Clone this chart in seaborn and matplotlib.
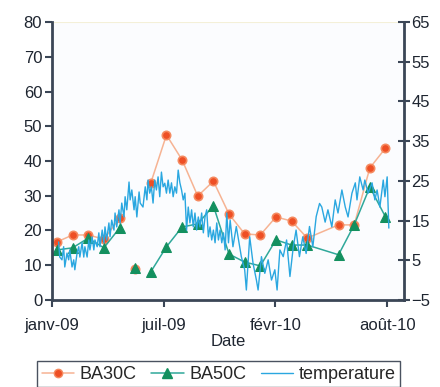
import pandas as pd
import matplotlib.pyplot as plt
from matplotlib.lines import Line2D
import seaborn as sns

sns.set_theme(style="white")
plt.rcParams["font.family"] = ["Liberation Sans", "DejaVu Sans"]

# ── data ─────────────────────────────────────────────────────────────────────
start = pd.Timestamp("2009-01-03")
sample_dates = pd.date_range("2009-01-12", periods=22, freq="28D")

ba30c = [16.7, 18.7, 18.7, 17.5, 23.5, 8.8, 33.7, 47.5, 40.3, 29.9, 34.2,
         24.7, 19.0, 18.7, 23.9, 22.7, 17.8, None, 21.6, 21.6, 38.0, 43.7]
ba50c = [14.4, 15.0, 17.8, 15.0, 20.7, 9.2, 8.1, 15.3, 21.0, 21.9, 27.1,
         13.2, 10.9, 9.8, 17.3, 15.8, 15.8, None, 13.0, 21.6, 32.5, 23.9]
# line segments (the point of early June stands alone)
segment = [0, 0, 0, 0, 0, 1, 2, 2, 2, 2, 2, 2, 2, 2, 2, 2, 2, 2, 2, 2, 2, 2]

temp_days = [12, 14, 18, 21, 23, 27, 30, 32, 36, 39, 41, 45, 48, 50, 54, 57, 59, 63, 66, 68,
             72, 75, 77, 81, 84, 86, 90, 93, 95, 98, 102, 104, 107, 111, 113, 116, 120, 122, 125, 129,
             131, 134, 138, 140, 143, 147, 149, 152, 156, 158,
             163, 167, 170, 172, 175, 178, 181, 184, 187, 190, 193, 196, 199, 202, 205, 208, 211, 214,
             217, 220, 223, 226, 229, 232, 235, 238, 241, 244, 247, 250, 253, 256, 259, 262, 265, 268,
             271, 274, 277, 280, 283, 286, 289, 292, 295, 298, 301, 304, 307, 310, 313, 316,
             319, 324, 330, 339, 345, 348, 354, 360, 366, 369, 375, 381, 387, 393, 399, 403, 408, 414,
             420, 426, 432, 437, 443, 449, 455, 461, 467, 473, 479,
             483, 489, 494, 501, 507, 512, 519, 525, 530, 537, 543, 546, 551, 557, 560, 566, 573, 578,
             582, 587, 593, 596, 600, 602, 603]
temp_vals = [9.6, 5.8, 5.1, 8.4, 3.3, 6.8, 5.1, 7.6, 3.3, 5.1, 2.6, 6.8, 8.4, 5.8, 9.4, 5.8, 8.4, 5.8, 10.1, 7.6,
             10.9, 7.6, 10.1, 8.4, 11.9, 8.4, 12.6, 9.4, 13.4, 10.1, 14.4, 10.9, 15.1, 12.6, 16.9, 13.4, 17.7, 14.4, 19.4, 15.9,
             21.0, 17.7, 24.7, 20.2, 22.7, 17.7, 21.0, 15.9, 22.2, 19.4,
             18.4, 23.5, 20.2, 25.2, 21.9, 23.5, 19.4, 25.2, 22.7, 26.0, 21.0, 27.2, 23.5, 24.4, 21.9, 25.2, 21.9, 24.5,
             21.0, 23.5, 21.9, 27.7, 24.5, 22.7, 20.2, 21.9, 12.6, 18.4, 14.4, 17.7, 13.4, 16.9, 12.6, 15.9, 13.4, 16.9,
             11.9, 15.9, 17.7, 10.9, 13.4, 10.1, 12.6, 9.4, 14.4, 10.1, 12.6, 9.4, 11.9, 7.6, 16.9, 9.4,
             15.1, 8.4, 13.5, 5.9, 2.6, -2.5, 10.9, 4.2, 0.0, -2.5, 5.9, 1.7, 5.1, 0.0, 2.6, -2.5, 7.6, 5.9,
             10.1, 0.9, 8.4, 12.6, 5.9, 10.9, 6.7, 13.5, 8.4, 16.0, 19.3,
             18.4, 14.6, 17.7, 13.4, 20.2, 16.9, 22.7, 18.4, 15.9, 21.9, 24.5, 20.2, 26.0, 22.7, 25.2, 21.9, 24.5, 20.2,
             22.7, 18.4, 25.2, 21.0, 26.0, 17.7, 13.1]

tick_dates = ["2009-01-03", "2009-07-22", "2010-02-07", "2010-08-26"]
tick_labels = ["janv-09", "juil-09", "févr-10", "août-10"]

df = pd.DataFrame({"date": sample_dates, "BA30C": ba30c, "BA50C": ba50c, "seg": segment})
df30 = df.dropna(subset=["BA30C"])
df50 = df.dropna(subset=["BA50C"])
temp = pd.DataFrame({"date": start + pd.to_timedelta(temp_days, unit="D"), "temperature": temp_vals})

c30_line, c30_mark = "#f6b393", "#ee4f25"
c50_line, c50_mark = "#2fa89a", "#13905f"
c_temp = "#2aa7e0"
c_axis = "#3b4656"

fig = plt.figure(figsize=(4.4, 3.87), dpi=100)
ax = fig.add_axes([0.118, 0.225, 0.8, 0.718])

sns.lineplot(data=df30, x="date", y="BA30C", units="seg", estimator=None, ax=ax,
             color=c30_line, lw=1.1, marker="o", markersize=6,
             markerfacecolor=c30_mark, markeredgecolor="#f58a60", markeredgewidth=1.2)
sns.lineplot(data=df50, x="date", y="BA50C", units="seg", estimator=None, ax=ax,
             color=c50_line, lw=1.1, marker="^", markersize=7,
             markerfacecolor=c50_mark, markeredgecolor=c50_mark)

ax2 = ax.twinx()
sns.lineplot(data=temp, x="date", y="temperature", ax=ax2, color=c_temp, lw=1.0)

ax.set_ylim(0, 80)
ax.set_yticks(range(0, 81, 10))
ax2.set_ylim(-5, 65)
ax2.set_yticks(range(-5, 66, 10))
ax.set_xlim(start, start + pd.Timedelta(days=630))
ax.set_xticks(pd.to_datetime(tick_dates))
ax.set_xticklabels(tick_labels)

ax.set_xlabel("Date", fontsize=12, color="#1e2530", labelpad=1)
ax.set_ylabel("")
ax2.set_ylabel("")

for a in (ax, ax2):
    for side in ("left", "right", "bottom", "top"):
        a.spines[side].set_visible(False)
ax.spines["left"].set_visible(True)
ax.spines["bottom"].set_visible(True)
ax2.spines["right"].set_visible(True)
for sp in (ax.spines["left"], ax.spines["bottom"], ax2.spines["right"]):
    sp.set_color(c_axis)
    sp.set_linewidth(2)
ax.axhline(80, color="#f4f0d8", lw=1.5)

ax.tick_params(axis="y", direction="out", length=5, width=1.5, color=c_axis,
               labelsize=12, labelcolor="#1e2530", left=True, pad=2)
ax.tick_params(axis="x", direction="out", length=5, width=1.5, color=c_axis,
               labelsize=12, labelcolor="#1e2530", bottom=True, pad=8)
ax2.tick_params(axis="y", direction="inout", length=9, width=1.5, color=c_axis,
                labelsize=12, labelcolor="#1e2530", right=True, pad=1)
ax.set_facecolor("#fbfcfe")

handles = [
    Line2D([], [], color=c30_line, lw=1.1, marker="o", markersize=6,
           markerfacecolor=c30_mark, markeredgecolor="#f58a60"),
    Line2D([], [], color=c50_line, lw=1.1, marker="^", markersize=7,
           markerfacecolor=c50_mark, markeredgecolor=c50_mark),
    Line2D([], [], color=c_temp, lw=1.0),
]
fig.legend(handles, ["BA30C", "BA50C", "temperature"], loc="upper center",
           bbox_to_anchor=(0.497, 0.066), ncol=3, fontsize=13, frameon=True,
           fancybox=False, edgecolor="#4a5260", handlelength=1.8, handletextpad=0.3,
           columnspacing=0.8, borderpad=0.25, borderaxespad=0, framealpha=1)

plt.savefig("out.png", dpi=100)
plt.close()
